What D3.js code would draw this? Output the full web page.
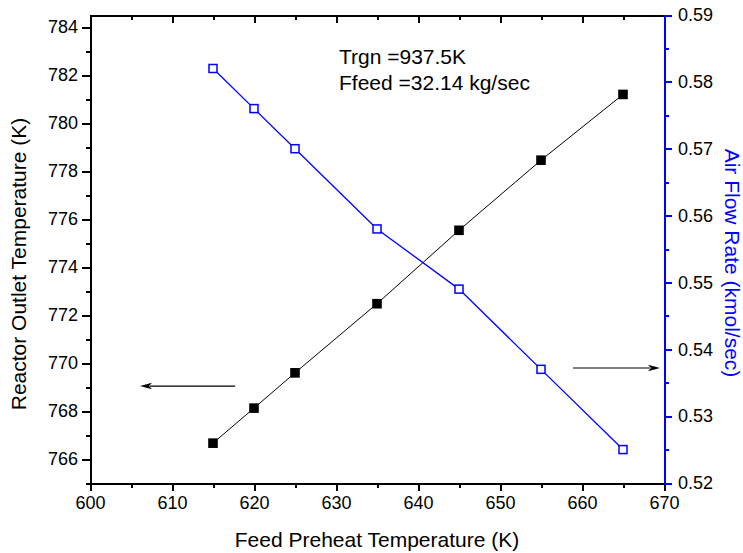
<!DOCTYPE html>
<html>
<head>
<meta charset="utf-8">
<script src="https://cdn.jsdelivr.net/npm/d3@7/dist/d3.min.js"></script>
<style>
  html, body { margin: 0; padding: 0; background: #fff; }
  svg { display: block; font-family: "Liberation Sans", Arial, Helvetica, sans-serif; }
  .axis path, .axis line { shape-rendering: crispEdges; }
</style>
</head>
<body>
<svg id="chart" width="743" height="553"></svg>
<script>
// Feed preheat temperature (K)
const feedTemp = [615, 620, 625, 635, 645, 655, 665];
// Reactor outlet temperature (K), left axis
const outletTemp = [766.66, 768.12, 769.59, 772.47, 775.53, 778.45, 781.19];
// Air flow rate (kmol/sec), right axis
const airFlow = [0.582, 0.576, 0.570, 0.558, 0.549, 0.537, 0.525];

const xTicks = [600, 610, 620, 630, 640, 650, 660, 670];
const xMinor = [605, 615, 625, 635, 645, 655, 665];
const yLeftTicks = [766, 768, 770, 772, 774, 776, 778, 780, 782, 784];
const yLeftMinor = [765, 767, 769, 771, 773, 775, 777, 779, 781, 783];
const yRightTicks = [0.52, 0.53, 0.54, 0.55, 0.56, 0.57, 0.58, 0.59];
const yRightMinor = [0.525, 0.535, 0.545, 0.555, 0.565, 0.575, 0.585];

const notes = ["Trgn =937.5K", "Ffeed =32.14 kg/sec"];

const BLUE = "#0000ff";
const svg = d3.select("#chart");

const pLeft = 90, pRight = 664, pTop = 15, pBottom = 483;

const x = d3.scaleLinear().domain([600, 670]).range([pLeft, pRight]);
const yL = d3.scaleLinear().domain([765, 784.5]).range([pBottom, pTop]);
const yR = d3.scaleLinear().domain([0.52, 0.59]).range([pBottom, pTop]);

const tickFont = "18px";

function styleAxis(g, color, width) {
  g.select(".domain").attr("stroke", color).attr("stroke-width", width);
  g.selectAll(".tick line").attr("stroke", color).attr("stroke-width", width);
  g.selectAll(".tick text").attr("fill", "#000").style("font-size", tickFont);
}

// Bottom axis
const gx = svg.append("g").attr("class", "axis").attr("transform", `translate(0,${pBottom})`)
  .call(d3.axisBottom(x).tickValues(xTicks).tickFormat(d3.format("d")).tickSize(8).tickSizeOuter(0).tickPadding(5));
styleAxis(gx, "#000", 2);
svg.append("g").attr("class", "axis").attr("transform", `translate(0,${pBottom})`)
  .call(d3.axisBottom(x).tickValues(xMinor).tickFormat("").tickSize(4.5).tickSizeOuter(0))
  .call(g => styleAxis(g, "#000", 2));

// Top frame with inward ticks
const gt = svg.append("g").attr("class", "axis").attr("transform", `translate(0,${pTop})`)
  .call(d3.axisBottom(x).tickValues(xTicks).tickFormat("").tickSize(8).tickSizeOuter(0));
styleAxis(gt, "#000", 2);
svg.append("g").attr("class", "axis").attr("transform", `translate(0,${pTop})`)
  .call(d3.axisBottom(x).tickValues(xMinor).tickFormat("").tickSize(4.5).tickSizeOuter(0))
  .call(g => styleAxis(g, "#000", 2));

// Left axis
const gl = svg.append("g").attr("class", "axis").attr("transform", `translate(${pLeft},0)`)
  .call(d3.axisLeft(yL).tickValues(yLeftTicks).tickFormat(d3.format("d")).tickSize(8).tickSizeOuter(0).tickPadding(4));
styleAxis(gl, "#000", 2);
svg.append("g").attr("class", "axis").attr("transform", `translate(${pLeft},0)`)
  .call(d3.axisLeft(yL).tickValues(yLeftMinor).tickFormat("").tickSize(4.5).tickSizeOuter(0))
  .call(g => styleAxis(g, "#000", 2));

// Right axis (blue)
const gr = svg.append("g").attr("class", "axis").attr("transform", `translate(${pRight},0)`)
  .call(d3.axisRight(yR).tickValues(yRightTicks).tickFormat(d3.format(".2f")).tickSize(8).tickSizeOuter(0).tickPadding(6));
styleAxis(gr, BLUE, 2);
svg.append("g").attr("class", "axis").attr("transform", `translate(${pRight},0)`)
  .call(d3.axisRight(yR).tickValues(yRightMinor).tickFormat("").tickSize(4.5).tickSizeOuter(0))
  .call(g => styleAxis(g, BLUE, 2));

// Outlet temperature series
const ptsL = feedTemp.map((f, i) => [f, outletTemp[i]]);
svg.append("path").datum(ptsL)
  .attr("fill", "none").attr("stroke", "#000").attr("stroke-width", 1)
  .attr("d", d3.line().x(d => x(d[0])).y(d => yL(d[1])));
const sq = 9.6;
svg.append("g").selectAll("rect").data(ptsL).join("rect")
  .attr("x", d => x(d[0]) - sq / 2).attr("y", d => yL(d[1]) - sq / 2)
  .attr("width", sq).attr("height", sq).attr("fill", "#000");

// Air flow series
const ptsR = feedTemp.map((f, i) => [f, airFlow[i]]);
svg.append("path").datum(ptsR)
  .attr("fill", "none").attr("stroke", BLUE).attr("stroke-width", 1.3)
  .attr("d", d3.line().x(d => x(d[0])).y(d => yR(d[1])));
const hs = 8;
svg.append("g").selectAll("rect").data(ptsR).join("rect")
  .attr("x", d => x(d[0]) - hs / 2).attr("y", d => yR(d[1]) - hs / 2)
  .attr("width", hs).attr("height", hs)
  .attr("fill", "#fff").attr("stroke", BLUE).attr("stroke-width", 1.5);

// Arrows pointing to each series' axis
function arrow(x1, x2, yv) {
  const dir = Math.sign(x2 - x1);
  svg.append("line").attr("x1", x1).attr("x2", x2 - dir * 10).attr("y1", yv).attr("y2", yv)
    .attr("stroke", "#000").attr("stroke-width", 1.2);
  svg.append("path")
    .attr("d", `M${x2},${yv} L${x2 - dir * 12},${yv - 3.3} L${x2 - dir * 9},${yv} L${x2 - dir * 12},${yv + 3.3} Z`)
    .attr("fill", "#000");
}
arrow(x(617.7), x(606.1), yL(769.04));
arrow(x(658.9), x(670) - 4, yR(0.5372));

// Operating conditions note
svg.append("g").selectAll("text").data(notes).join("text")
  .attr("x", 339).attr("y", (d, i) => 63.5 + i * 26)
  .style("font-size", "21px").attr("fill", "#000").text(d => d);

// Axis titles
svg.append("text").attr("x", (pLeft + pRight) / 2).attr("y", 547)
  .attr("text-anchor", "middle").style("font-size", "21px").attr("fill", "#000")
  .text("Feed Preheat Temperature (K)");
svg.append("text").attr("transform", `translate(26,264) rotate(-90)`)
  .attr("text-anchor", "middle").style("font-size", "21px").attr("fill", "#000")
  .text("Reactor Outlet Temperature (K)");
svg.append("text").attr("transform", `translate(725,263) rotate(90)`)
  .attr("text-anchor", "middle").style("font-size", "21px").attr("fill", BLUE)
  .text("Air Flow Rate (kmol/sec)");
</script>
</body>
</html>
